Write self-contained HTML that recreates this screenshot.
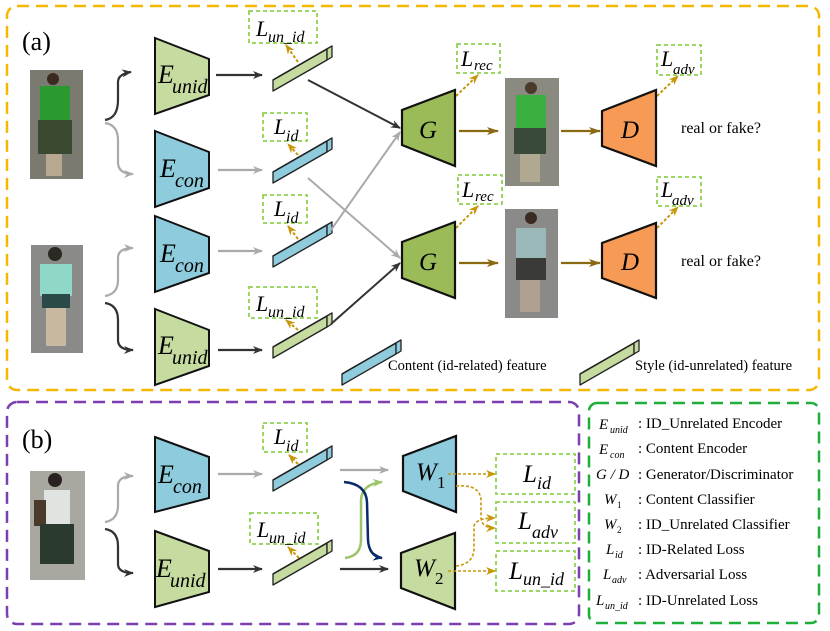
<!DOCTYPE html>
<html><head><meta charset="utf-8"><style>
body{margin:0;background:#fff}
svg{display:block}
text{font-family:"Liberation Serif",serif;fill:#000}
.it{font-style:italic}
</style></head><body>
<svg width="830" height="631" viewBox="0 0 830 631" xmlns="http://www.w3.org/2000/svg">
<defs>
<marker id="ab" markerWidth="10" markerHeight="8" refX="9" refY="4" orient="auto" markerUnits="userSpaceOnUse"><path d="M0,0 L10,4 L0,8 L3,4z" fill="#333"/></marker>
<marker id="ag" markerWidth="10" markerHeight="8" refX="9" refY="4" orient="auto" markerUnits="userSpaceOnUse"><path d="M0,0 L10,4 L0,8 L3,4z" fill="#aaa"/></marker>
<marker id="ao" markerWidth="12" markerHeight="8" refX="11" refY="4" orient="auto" markerUnits="userSpaceOnUse"><path d="M0,0 L12,4 L0,8 L3,4z" fill="#8a6a10"/></marker>
<marker id="ay" markerWidth="10" markerHeight="8" refX="9" refY="4" orient="auto" markerUnits="userSpaceOnUse"><path d="M0,0 L10,4 L0,8 L3,4z" fill="#c8960a"/></marker>
<marker id="agr" markerWidth="10" markerHeight="8" refX="9" refY="4" orient="auto" markerUnits="userSpaceOnUse"><path d="M0,0 L10,4 L0,8 L3,4z" fill="#9cc46a"/></marker>
<marker id="an" markerWidth="10" markerHeight="8" refX="9" refY="4" orient="auto" markerUnits="userSpaceOnUse"><path d="M0,0 L10,4 L0,8 L3,4z" fill="#0a2a6a"/></marker>
<g id="fb" stroke="#222" stroke-width="1.3" stroke-linejoin="round">
<polygon points="-30,8 24,-23 24,-12 -30,19" fill="#8ecbdc"/>
<polygon points="-30,8 24,-23 29,-26 -25,5" fill="#d8eef4"/>
<polygon points="24,-23 29,-26 29,-15 24,-12" fill="#8ecbdc"/></g>
<g id="fg" stroke="#222" stroke-width="1.3" stroke-linejoin="round">
<polygon points="-30,8 24,-23 24,-12 -30,19" fill="#c6dba0"/>
<polygon points="-30,8 24,-23 29,-26 -25,5" fill="#e6f0d4"/>
<polygon points="24,-23 29,-26 29,-15 24,-12" fill="#c6dba0"/></g>
</defs>

<rect x="7" y="6" width="812" height="384" rx="10" fill="none" stroke="#f5b800" stroke-width="2.5" stroke-dasharray="12,7"/>
<rect x="7" y="402" width="572" height="222" rx="10" fill="none" stroke="#7b3fb0" stroke-width="2.5" stroke-dasharray="12,7"/>
<rect x="589" y="403" width="230" height="220" rx="8" fill="none" stroke="#1fae3a" stroke-width="2.5" stroke-dasharray="12,7"/>

<text x="22" y="50" font-size="26">(a)</text>
<text x="22" y="448" font-size="26">(b)</text>

<g>
<rect x="30" y="70" width="53" height="109" fill="#7a7a70"/><rect x="40" y="86" width="30" height="36" fill="#2a9a30"/><rect x="38" y="120" width="34" height="34" fill="#3a4a30"/><circle cx="53" cy="79" r="6" fill="#3a2a20"/><rect x="46" y="154" width="16" height="22" fill="#b8a890"/>
<rect x="31" y="245" width="52" height="108" fill="#8a8a88"/><rect x="40" y="264" width="32" height="32" fill="#8fd8c8"/><rect x="42" y="294" width="28" height="14" fill="#2a4a48"/><circle cx="55" cy="254" r="7" fill="#2a2a22"/><rect x="46" y="308" width="20" height="38" fill="#c8b8a0"/>
<rect x="505" y="78" width="54" height="108" fill="#8a8a80"/><rect x="516" y="95" width="30" height="34" fill="#3ab040"/><rect x="514" y="128" width="32" height="26" fill="#3a4a38"/><circle cx="531" cy="88" r="6" fill="#4a3a2a"/><rect x="520" y="154" width="20" height="28" fill="#b0a890"/>
<rect x="505" y="209" width="53" height="109" fill="#8a8a88"/><rect x="516" y="228" width="30" height="32" fill="#9ab8b8"/><rect x="516" y="258" width="30" height="22" fill="#3a3a38"/><circle cx="531" cy="218" r="6" fill="#3a2a22"/><rect x="520" y="280" width="20" height="32" fill="#b0a090"/>
<rect x="30" y="471" width="55" height="109" fill="#a8a8a0"/><rect x="44" y="490" width="26" height="36" fill="#e0e4e0"/><rect x="34" y="500" width="12" height="26" fill="#4a3a2a"/><rect x="40" y="524" width="34" height="40" fill="#2a3a2e"/><circle cx="55" cy="480" r="7" fill="#2a2222"/>
</g>

<path d="M105,120 Q118,118 118,100 L118,82 Q118,74 131,72" fill="none" stroke="#333" stroke-width="2.2" marker-end="url(#ab)"/>
<path d="M105,123 Q118,125 118,140 L118,162 Q118,174 133,174" fill="none" stroke="#aaa" stroke-width="2.2" marker-end="url(#ag)"/>
<path d="M105,296 Q118,294 118,280 L118,258 Q118,248 133,248" fill="none" stroke="#aaa" stroke-width="2.2" marker-end="url(#ag)"/>
<path d="M105,303 Q118,305 118,320 L118,340 Q118,350 133,350" fill="none" stroke="#333" stroke-width="2.2" marker-end="url(#ab)"/>
<path d="M105,522 Q118,520 118,505 L118,486 Q118,476 133,476" fill="none" stroke="#aaa" stroke-width="2.2" marker-end="url(#ag)"/>
<path d="M105,529 Q118,531 118,546 L118,564 Q118,573 133,573" fill="none" stroke="#333" stroke-width="2.2" marker-end="url(#ab)"/>

<polygon points="155,38 209,59 209,95 155,114" fill="#c6dba0" stroke="#111" stroke-width="2"/>
<polygon points="155,131 209,152 209,188 155,207" fill="#8ecbdc" stroke="#111" stroke-width="2"/>
<polygon points="155,216 209,237 209,273 155,292" fill="#8ecbdc" stroke="#111" stroke-width="2"/>
<polygon points="155,309 209,330 209,366 155,385" fill="#c6dba0" stroke="#111" stroke-width="2"/>
<text x="158" y="83" font-size="26" class="it">E</text><text x="172" y="93" font-size="20" class="it">unid</text>
<text x="160" y="177" font-size="26" class="it">E</text><text x="175" y="187" font-size="20" class="it">con</text>
<text x="160" y="262" font-size="26" class="it">E</text><text x="175" y="272" font-size="20" class="it">con</text>
<text x="158" y="354" font-size="26" class="it">E</text><text x="172" y="364" font-size="20" class="it">unid</text>

<line x1="216" y1="75" x2="262" y2="75" stroke="#333" stroke-width="2.2" marker-end="url(#ab)"/>
<line x1="218" y1="170" x2="262" y2="170" stroke="#aaa" stroke-width="2.2" marker-end="url(#ag)"/>
<line x1="218" y1="251" x2="262" y2="251" stroke="#aaa" stroke-width="2.2" marker-end="url(#ag)"/>
<line x1="218" y1="350" x2="262" y2="350" stroke="#333" stroke-width="2.2" marker-end="url(#ab)"/>

<use href="#fg" x="303" y="72"/>
<use href="#fb" x="303" y="164"/>
<use href="#fb" x="303" y="248"/>
<use href="#fg" x="303" y="339"/>

<line x1="308" y1="80" x2="400" y2="128" stroke="#333" stroke-width="2" marker-end="url(#ab)"/>
<line x1="308" y1="178" x2="400" y2="258" stroke="#aaa" stroke-width="2" marker-end="url(#ag)"/>
<line x1="331" y1="230" x2="400" y2="132" stroke="#aaa" stroke-width="2" marker-end="url(#ag)"/>
<line x1="331" y1="324" x2="400" y2="263" stroke="#333" stroke-width="2" marker-end="url(#ab)"/>

<g fill="#fff" stroke="#8fd14f" stroke-width="1.8" stroke-dasharray="4,3">
<rect x="249" y="11" width="68" height="32"/><rect x="263" y="113" width="44" height="28"/>
<rect x="263" y="195" width="44" height="28"/><rect x="249" y="287" width="68" height="31"/>
<rect x="457" y="44" width="43" height="29"/><rect x="458" y="175" width="44" height="29"/>
<rect x="657" y="45" width="44" height="30"/><rect x="657" y="177" width="44" height="29"/>
<rect x="496" y="454" width="79" height="40"/><rect x="496" y="502" width="79" height="41"/><rect x="496" y="551" width="79" height="40"/>
<rect x="263" y="423" width="44" height="29"/><rect x="250" y="513" width="68" height="31"/>
</g>
<g stroke="#c8960a" stroke-width="2" stroke-dasharray="3,2" fill="none">
<line x1="298" y1="62" x2="286" y2="45" marker-end="url(#ay)"/>
<line x1="298" y1="155" x2="288" y2="144" marker-end="url(#ay)"/>
<line x1="298" y1="239" x2="288" y2="226" marker-end="url(#ay)"/>
<line x1="298" y1="330" x2="286" y2="320" marker-end="url(#ay)"/>
<line x1="298" y1="464" x2="289" y2="455" marker-end="url(#ay)"/>
<line x1="299" y1="558" x2="288" y2="547" marker-end="url(#ay)"/>
<line x1="456" y1="96" x2="478" y2="75" marker-end="url(#ay)"/>
<line x1="456" y1="228" x2="478" y2="206" marker-end="url(#ay)"/>
<line x1="657" y1="96" x2="678" y2="76" marker-end="url(#ay)"/>
<line x1="657" y1="228" x2="678" y2="207" marker-end="url(#ay)"/>
</g>
<g font-size="22" class="it">
<text x="256" y="36" class="it">L</text><text x="268" y="42" font-size="16" class="it">un_id</text>
<text x="274" y="134" class="it">L</text><text x="286" y="141" font-size="16" class="it">id</text>
<text x="274" y="216" class="it">L</text><text x="286" y="223" font-size="16" class="it">id</text>
<text x="256" y="311" class="it">L</text><text x="268" y="317" font-size="16" class="it">un_id</text>
<text x="274" y="444" class="it">L</text><text x="286" y="451" font-size="16" class="it">id</text>
<text x="257" y="537" class="it">L</text><text x="269" y="543" font-size="16" class="it">un_id</text>
<text x="461" y="66" class="it">L</text><text x="474" y="70" font-size="15" class="it">rec</text>
<text x="462" y="197" class="it">L</text><text x="475" y="201" font-size="15" class="it">rec</text>
<text x="661" y="66" class="it">L</text><text x="673" y="74" font-size="15" class="it">adv</text>
<text x="661" y="197" class="it">L</text><text x="672" y="205" font-size="15" class="it">adv</text>
</g>

<polygon points="402,110 455,90 455,166 402,145" fill="#9bbb59" stroke="#111" stroke-width="2.2"/>
<polygon points="402,242 455,222 455,298 402,278" fill="#9bbb59" stroke="#111" stroke-width="2.2"/>
<text x="419" y="138" font-size="25" class="it">G</text>
<text x="419" y="270" font-size="25" class="it">G</text>
<line x1="459" y1="131" x2="498" y2="131" stroke="#8a6a10" stroke-width="2.2" marker-end="url(#ao)"/>
<line x1="459" y1="263" x2="498" y2="263" stroke="#8a6a10" stroke-width="2.2" marker-end="url(#ao)"/>
<line x1="561" y1="131" x2="600" y2="131" stroke="#8a6a10" stroke-width="2.2" marker-end="url(#ao)"/>
<line x1="561" y1="263" x2="600" y2="263" stroke="#8a6a10" stroke-width="2.2" marker-end="url(#ao)"/>
<polygon points="602,111 656,90 656,166 602,146" fill="#f79a55" stroke="#111" stroke-width="2.2"/>
<polygon points="602,243 656,223 656,298 602,278" fill="#f79a55" stroke="#111" stroke-width="2.2"/>
<text x="621" y="138" font-size="25" class="it">D</text>
<text x="621" y="270" font-size="25" class="it">D</text>
<text x="681" y="133" font-size="16">real or fake?</text>
<text x="681" y="266" font-size="16">real or fake?</text>

<use href="#fb" x="372" y="366"/>
<text x="388" y="370" font-size="14.5">Content (id-related) feature</text>
<use href="#fg" x="610" y="366"/>
<text x="635" y="370" font-size="14.5">Style (id-unrelated) feature</text>

<polygon points="155,437 209,457 209,498 155,512" fill="#8ecbdc" stroke="#111" stroke-width="2"/>
<polygon points="155,531 209,551 209,592 155,607" fill="#c6dba0" stroke="#111" stroke-width="2"/>
<text x="158" y="483" font-size="26" class="it">E</text><text x="173" y="493" font-size="20" class="it">con</text>
<text x="156" y="577" font-size="26" class="it">E</text><text x="170" y="587" font-size="20" class="it">unid</text>
<line x1="218" y1="474" x2="262" y2="474" stroke="#aaa" stroke-width="2.2" marker-end="url(#ag)"/>
<line x1="218" y1="569" x2="262" y2="569" stroke="#333" stroke-width="2.2" marker-end="url(#ab)"/>
<use href="#fb" x="303" y="472"/>
<use href="#fg" x="303" y="566"/>
<line x1="340" y1="470" x2="388" y2="470" stroke="#aaa" stroke-width="2.2" marker-end="url(#ag)"/>
<line x1="340" y1="569" x2="388" y2="569" stroke="#333" stroke-width="2.2" marker-end="url(#ab)"/>
<path d="M345,558 Q361,556 361,540 L361,500 Q362,484 382,482" fill="none" stroke="#9cc46a" stroke-width="2.5" marker-end="url(#agr)"/>
<path d="M344,482 Q366,484 367,502 L368,540 Q369,556 382,558" fill="none" stroke="#0a2a6a" stroke-width="2.5" marker-end="url(#an)"/>
<polygon points="403,456 456,436 456,512 403,491" fill="#8ecbdc" stroke="#111" stroke-width="2.2"/>
<polygon points="401,553 455,533 455,609 401,588" fill="#c6dba0" stroke="#111" stroke-width="2.2"/>
<text x="416" y="480" font-size="25" class="it">W</text><text x="437" y="488" font-size="17">1</text>
<text x="414" y="576" font-size="25" class="it">W</text><text x="435" y="584" font-size="17">2</text>
<g stroke="#c8960a" stroke-width="1.6" stroke-dasharray="3,2" fill="none">
<line x1="448" y1="474" x2="495" y2="474" marker-end="url(#ay)"/>
<path d="M456,486 Q480,484 481,500 L481,518 Q482,528 495,528" marker-end="url(#ay)"/>
<path d="M456,566 Q474,564 474,548 L474,526 Q476,518 495,518" marker-end="url(#ay)"/>
<line x1="448" y1="571" x2="495" y2="571" marker-end="url(#ay)"/>
</g>
<text x="523" y="482" font-size="25" class="it">L</text><text x="537" y="489" font-size="18" class="it">id</text>
<text x="518" y="529" font-size="25" class="it">L</text><text x="532" y="538" font-size="18" class="it">adv</text>
<text x="509" y="579" font-size="25" class="it">L</text><text x="523" y="585" font-size="18" class="it">un_id</text>

<g font-size="15">
<text x="599" y="429" class="it">E</text><text x="610" y="433" font-size="10" class="it">unid</text><text x="638" y="428">: ID_Unrelated Encoder</text>
<text x="599" y="454" class="it">E</text><text x="610" y="458" font-size="10" class="it">con</text><text x="638" y="453">: Content Encoder</text>
<text x="596" y="479" class="it">G / D</text><text x="638" y="479">: Generator/Discriminator</text>
<text x="604" y="504" class="it">W</text><text x="617" y="508" font-size="9">1</text><text x="638" y="504">: Content Classifier</text>
<text x="604" y="529" class="it">W</text><text x="617" y="533" font-size="9">2</text><text x="638" y="529">: ID_Unrelated Classifier</text>
<text x="606" y="554" class="it">L</text><text x="615" y="558" font-size="10" class="it">id</text><text x="638" y="554">: ID-Related Loss</text>
<text x="603" y="579" class="it">L</text><text x="612" y="583" font-size="10" class="it">adv</text><text x="638" y="579">: Adversarial Loss</text>
<text x="596" y="605" class="it">L</text><text x="605" y="609" font-size="10" class="it">un_id</text><text x="638" y="605">: ID-Unrelated Loss</text>
</g>
</svg>
</body></html>
